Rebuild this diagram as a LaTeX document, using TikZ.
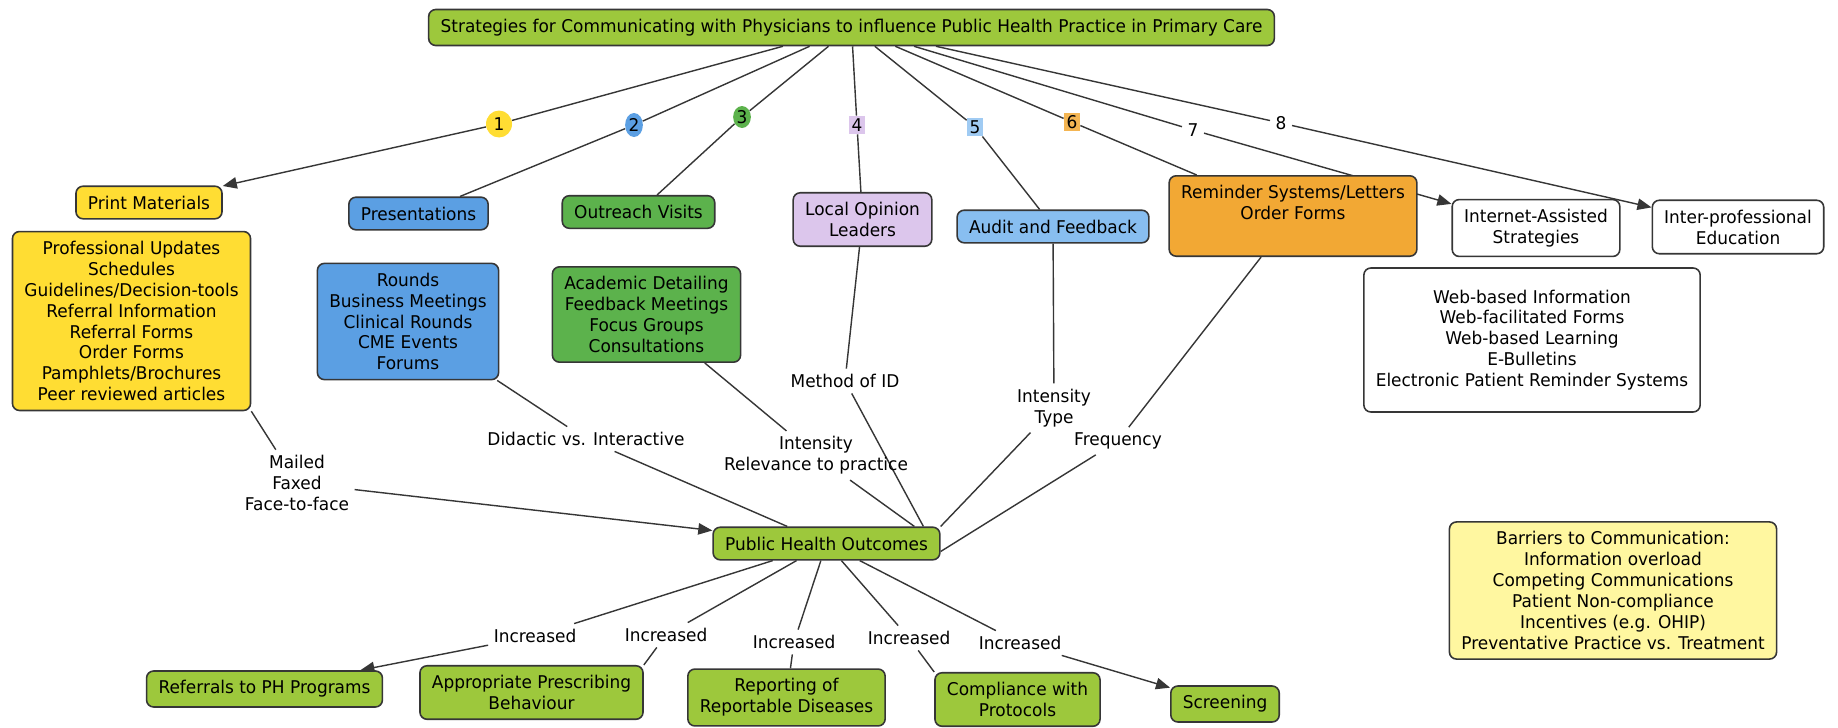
\documentclass[tikz,border=0pt]{standalone}
\usepackage{fontspec}
\setmainfont{DejaVu Sans}[FakeStretch=0.965]
\usetikzlibrary{arrows.meta,positioning,shapes.geometric,backgrounds}
\definecolor{cmline}{HTML}{363636}
\definecolor{cmlime}{HTML}{9DC83C}
\definecolor{cmyellow}{HTML}{FFDD33}
\definecolor{cmblue}{HTML}{5B9FE3}
\definecolor{cmsky}{HTML}{88BEF0}
\definecolor{cmgreen}{HTML}{5CB24C}
\definecolor{cmlilac}{HTML}{DCC6EC}
\definecolor{cmorange}{HTML}{F2A834}
\definecolor{cmpale}{HTML}{FFF7A0}
\tikzset{
  concept/.style={draw=cmline, line width=0.9pt, rounded corners=4pt,
                  align=center, inner xsep=6.8pt, inner ysep=5.4pt, fill=#1},
  concept/.default=white,
  link/.style={draw=cmline, line width=0.8pt},
  linkto/.style={link, -{Triangle[length=8pt,width=6.5pt]}},
  phrase/.style={align=center, inner sep=3pt},
  numoval/.style={ellipse, fill=#1, inner sep=0.5pt,
                  minimum width=0.34cm, minimum height=0.48cm},
  numbox/.style={fill=#1, inner sep=1.5pt},
}

\begin{document}
\begin{tikzpicture}[x=0.02cm, y=-0.02cm, font=\fontsize{10}{11.9}\selectfont]
  \useasboundingbox (0,0) rectangle (1838,727);

  % concepts
  \node[concept=cmlime] (title) at (851.5,27.5)
    {Strategies for Communicating with Physicians to influence Public Health Practice in Primary Care};

  \node[concept=cmyellow] (pm) at (149,202.5) {Print Materials};
  \node[concept=cmyellow] (pmlist) at (131.5,321)
    {Professional Updates\\Schedules\\Guidelines/Decision-tools\\Referral Information\\
     Referral Forms\\Order Forms\\Pamphlets/Brochures\\Peer reviewed articles};
  \node[concept=cmblue] (pres) at (418.5,213.5) {Presentations};
  \node[concept=cmblue] (preslist) at (408,321.5)
    {Rounds\\Business Meetings\\Clinical Rounds\\CME Events\\Forums};
  \node[concept=cmgreen] (out) at (638.5,212) {Outreach Visits};
  \node[concept=cmgreen] (outlist) at (646.5,314.5)
    {Academic Detailing\\Feedback Meetings\\Focus Groups\\Consultations};
  \node[concept=cmlilac] (lol) at (862.5,219.5) {Local Opinion\\Leaders};
  \node[concept=cmsky] (aud) at (1053,226.5) {Audit and Feedback};
  \node[concept=cmorange] (rem) at (1293,216)
    {Reminder Systems/Letters\\Order Forms\\\strut};
  \node[concept] (inet) at (1536,228) {Internet-Assisted\\Strategies};
  \node[concept] (iped) at (1738,227) {Inter-professional\\Education};
  \node[concept, minimum height=2.88cm] (web) at (1532,340)
    {Web-based Information\\Web-facilitated Forms\\Web-based Learning\\E-Bulletins\\
     Electronic Patient Reminder Systems};
  \node[concept=cmpale] (bar) at (1613,590.5)
    {Barriers to Communication:\\Information overload\\Competing Communications\\
     Patient Non-compliance\\Incentives (e.g. OHIP)\\Preventative Practice vs. Treatment};

  \node[concept=cmlime] (pho) at (826.5,543.5) {Public Health Outcomes};
  \foreach \n/\x/\y/\txt in {refs/264.5/689/{Referrals to PH Programs},
      appr/531.5/692.5/{Appropriate Prescribing\\Behaviour},
      rep/786.5/697.5/{Reporting of\\Reportable Diseases},
      comp/1017.5/699.5/{Compliance with\\Protocols},
      scr/1225/704/{Screening}}
    \node[concept=cmlime] (\n) at (\x,\y) {\txt};

  % linking phrases
  \node[numoval=cmyellow, minimum width=0.52cm, minimum height=0.54cm] (n1) at (499,124) {1};
  \node[numoval=cmblue] (n2) at (634,125) {2};
  \node[numoval=cmgreen, minimum height=0.44cm] (n3) at (742,117) {3};
  \node[numbox=cmlilac] (n4) at (857,125) {4};
  \node[numbox=cmsky!80] (n5) at (975,127) {5};
  \node[numbox=cmorange!85] (n6) at (1072,122) {6};
  \node[phrase] (n7) at (1193,130) {7};
  \node[phrase] (n8) at (1281,123) {8};

  \node[phrase] (mail) at (297,483) {Mailed\\Faxed\\Face-to-face};
  \node[phrase] (did) at (586,439) {Didactic vs. Interactive};
  \node[phrase] (intrel) at (816,455.5) {Intensity\\Relevance to practice};
  \node[phrase] (meth) at (845,381) {Method of ID};
  \node[phrase] (inttype) at (1054,408) {Intensity\\Type};
  \node[phrase] (freq) at (1118,441) {Frequency};

  \foreach \n/\x/\y in {inc1/535/636, inc2/666/635, inc3/794/642, inc4/909/638, inc5/1020/643}
    \node[phrase] (\n) at (\x,\y) {Increased};

  % connectors
  \begin{scope}[on background layer]
    \fill[white] (0,0) rectangle (1838,727);
    \foreach \i in {1,...,8}
      \draw[link] (title) -- (n\i);
    \draw[linkto] (n1) -- (pm);
    \draw[link] (n2) -- (pres);
    \draw[link] (n3) -- (out);
    \draw[link] (n4) -- (lol);
    \draw[link] (n5) -- (aud);
    \draw[link] (n6) -- (rem);
    \draw[linkto] (n7) -- (inet);
    \draw[linkto] (n8) -- (iped);

    \draw[link] (pmlist.south east) -- (mail);
    \draw[linkto] (mail) -- (pho);
    \draw[link] (preslist) -- (did);
    \draw[link] (did) -- (pho);
    \draw[link] (outlist) -- (intrel);
    \draw[link] (intrel) -- (pho.11);
    \draw[link] (lol) -- (meth);
    \draw[link] (meth) -- (pho.10);
    \draw[link] (aud) -- (inttype);
    \draw[link] (inttype) -- (pho.north east);
    \draw[link] (rem) -- (freq);
    \draw[link] (freq) -- (pho.-4);

    \foreach \n in {inc1,inc2,inc3,inc4,inc5}
      \draw[link] (pho) -- (\n);
    \draw[linkto] (inc1) -- (refs);
    \draw[link] (inc2) -- (appr.north east);
    \draw[link] (inc3) -- (rep);
    \draw[link] (inc4) -- (comp.north west);
    \draw[linkto] (inc5) -- (scr);
  \end{scope}
\end{tikzpicture}
\end{document}
